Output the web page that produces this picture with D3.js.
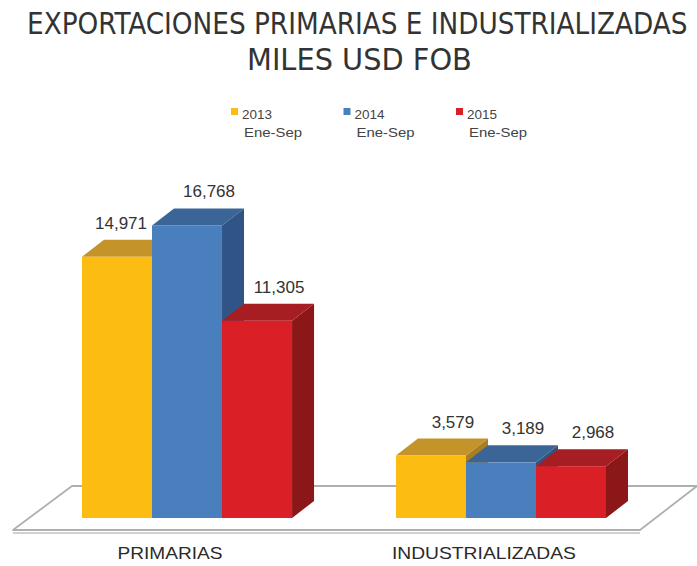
<!DOCTYPE html>
<html>
<head>
<meta charset="utf-8">
<script src="https://cdn.jsdelivr.net/npm/d3@7"></script>
<style>
  body { margin: 0; background: #fff; }
  svg { display: block; }
</style>
</head>
<body>
<svg id="chart" width="697" height="566"></svg>
<script>
// data
var categories = ['PRIMARIAS', 'INDUSTRIALIZADAS'];
var seriesNames = ['2013', '2014', '2015'];
var seriesSub = 'Ene-Sep';
var values2013 = [14971, 3579];
var values2014 = [16768, 3189];
var values2015 = [11305, 2968];
var titleLines = ['EXPORTACIONES PRIMARIAS E INDUSTRIALIZADAS', 'MILES USD FOB'];

var allValues = [values2013, values2014, values2015];
var colors = {
  front: ['#fcbc12', '#4a7fbe', '#da1f26'],
  top:   ['#c4942a', '#3b6596', '#a61d22'],
  side:  ['#a87e1f', '#2f5485', '#8c1719']
};

var svg = d3.select('#chart');
var dx = 22, dy = -17;        // bar depth
var base = 518;

var y = d3.scaleLinear().domain([0, 20000]).range([base, 169]);
var x0 = d3.scaleBand().domain(categories).range([82, 606]).paddingInner(0.331).paddingOuter(0);
var x1 = d3.scaleBand().domain(seriesNames).range([0, x0.bandwidth()]);

var titleFont = '"Liberation Sans Narrow", "DejaVu Sans Condensed", "Open Sans", sans-serif';
var bodyFont = '"Liberation Sans", Arial, sans-serif';

// titles: shrink the font to the wanted width, then stretch back up vertically
function titleLine(txt, left, baseline, width) {
  var gt = svg.append('g');
  var t = gt.append('text')
    .style('font-family', titleFont)
    .style('font-size', '30px')
    .style('fill', '#333')
    .text(txt);
  var w = t.node().getComputedTextLength();
  var fs = 30 * width / w;
  t.style('font-size', fs + 'px');
  gt.attr('transform', 'translate(' + left + ',' + baseline + ') scale(1,' + (30 / fs) + ')');
}
titleLine(titleLines[0], 27, 34, 661);
titleLine(titleLines[1], 247, 70, 225);

// legend
var legend = svg.selectAll('g.legend')
  .data(seriesNames)
  .enter().append('g')
  .attr('class', 'legend')
  .attr('transform', function(d, i) { return 'translate(' + (231 + i * 112.5) + ',0)'; });
legend.append('rect')
  .attr('x', 0).attr('y', 108).attr('width', 7).attr('height', 7)
  .style('fill', function(d, i) { return colors.front[i]; });
legend.append('text')
  .attr('x', 11).attr('y', 119)
  .attr('textLength', 30).attr('lengthAdjust', 'spacingAndGlyphs')
  .style('font-family', bodyFont)
  .style('font-size', '13px').style('fill', '#444')
  .text(function(d) { return d; });
legend.append('text')
  .attr('x', 13).attr('y', 137)
  .attr('textLength', 58).attr('lengthAdjust', 'spacingAndGlyphs')
  .style('font-family', bodyFont)
  .style('font-size', '13px').style('fill', '#444')
  .text(seriesSub);

// floor
var fl = 13, fr = 640, bl = 72, br = 697, fy = 530, by = 486;
svg.append('path')
  .attr('d', 'M' + fl + ',' + (fy + 3) + 'L' + fr + ',' + (fy + 3))
  .style('stroke', '#d0d0d0').style('stroke-width', 2).style('fill', 'none');
svg.append('path')
  .attr('d', 'M' + fl + ',' + fy + 'L' + fr + ',' + fy + 'L' + br + ',' + by + 'L' + bl + ',' + by + 'Z')
  .style('fill', '#fff').style('stroke', '#b0b0b0').style('stroke-width', 1.8)
  .style('stroke-linejoin', 'round');

// bars
var bars = [];
categories.forEach(function(c, ci) {
  seriesNames.forEach(function(s, si) {
    bars.push({cat: c, ci: ci, si: si, value: allValues[si][ci]});
  });
});

var g = svg.selectAll('g.bar')
  .data(bars)
  .enter().append('g')
  .attr('class', 'bar');

function barGeom(d) {
  var xl = x0(d.cat) + x1(seriesNames[d.si]);
  return {xl: xl, xr: xl + x1.bandwidth(), yt: y(d.value)};
}

g.append('path') // side
  .attr('d', function(d) {
    var b = barGeom(d);
    return 'M' + b.xr + ',' + b.yt + 'L' + (b.xr + dx) + ',' + (b.yt + dy) +
      'L' + (b.xr + dx) + ',' + (base + dy) + 'L' + b.xr + ',' + base + 'Z';
  })
  .style('fill', function(d) { return colors.side[d.si]; });
g.append('path') // top
  .attr('d', function(d) {
    var b = barGeom(d);
    return 'M' + b.xl + ',' + b.yt + 'L' + (b.xl + dx) + ',' + (b.yt + dy) +
      'L' + (b.xr + dx) + ',' + (b.yt + dy) + 'L' + b.xr + ',' + b.yt + 'Z';
  })
  .style('fill', function(d) { return colors.top[d.si]; });
g.append('rect') // front
  .attr('x', function(d) { return barGeom(d).xl; })
  .attr('y', function(d) { return barGeom(d).yt; })
  .attr('width', x1.bandwidth())
  .attr('height', function(d) { return base - barGeom(d).yt; })
  .style('fill', function(d) { return colors.front[d.si]; });

// value labels
var fmt = d3.format(',');
svg.selectAll('text.value')
  .data(bars)
  .enter().append('text')
  .attr('class', 'value')
  .attr('x', function(d, i) {
    var b = barGeom(d);
    var cx = (b.xl + b.xr) / 2 + dx;
    var next = bars[i + 1];
    // keep the label clear of a taller neighbour
    if (next && next.ci === d.ci && next.value > d.value) {
      cx = Math.min(cx, barGeom(next).xl - 31);
    }
    return cx;
  })
  .attr('y', function(d) { return barGeom(d).yt - 28; })
  .attr('text-anchor', 'middle')
  .style('font-family', bodyFont)
  .style('font-size', '17px')
  .style('fill', '#333')
  .text(function(d) { return fmt(d.value); });

// category labels
svg.selectAll('text.cat')
  .data(categories)
  .enter().append('text')
  .attr('class', 'cat')
  .attr('x', function(d) { return x0(d) + x0.bandwidth() / 2 - 17; })
  .attr('y', 559)
  .attr('text-anchor', 'middle')
  .attr('textLength', function(d, i) { return i === 0 ? 105 : 184; })
  .attr('lengthAdjust', 'spacingAndGlyphs')
  .style('font-family', bodyFont)
  .style('font-size', '16.5px')
  .style('fill', '#2a2a2a')
  .text(function(d) { return d; });
</script>
</body>
</html>
